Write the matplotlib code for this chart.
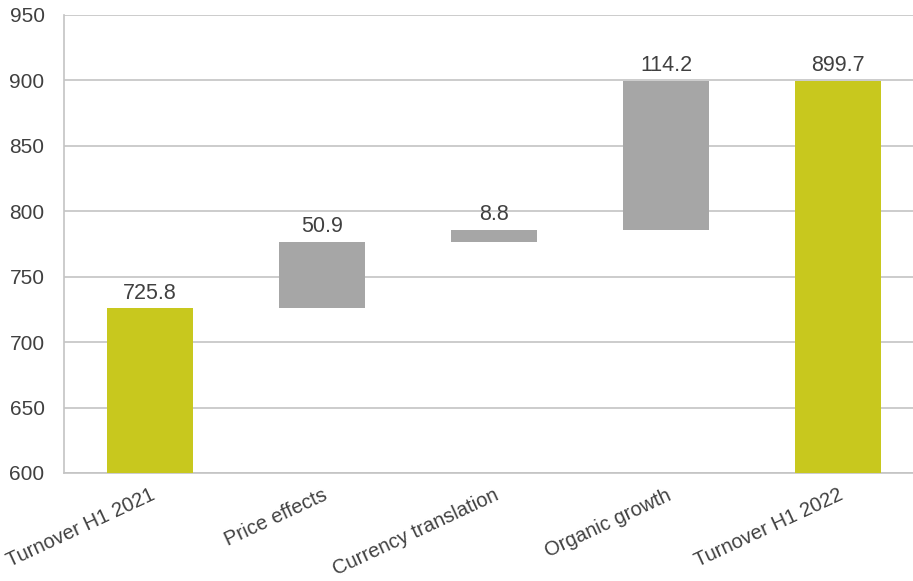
import matplotlib

matplotlib.use("Agg")

import matplotlib.pyplot as plt

plt.rcParams["font.family"] = ["Liberation Sans", "DejaVu Sans"]

categories = ["Turnover H1 2021", "Price effects", "Currency translation", "Organic growth", "Turnover H1 2022"]
values = [725.8, 50.9, 8.8, 114.2, 899.7]
is_total = [True, False, False, False, True]
y_ticks = [600, 650, 700, 750, 800, 850, 900, 950]

TOTAL_COLOR = "#c8c81e"
STEP_COLOR = "#a6a6a6"
GRID_COLOR = "#c4c4c4"
TEXT_COLOR = "#404040"

# waterfall bottoms/heights
bottoms, heights, tops = [], [], []
running = 0.0
for value, total in zip(values, is_total):
    if total:
        bottoms.append(y_ticks[0])
        heights.append(value - y_ticks[0])
        running = value
    else:
        bottoms.append(running)
        heights.append(value)
        running += value
    tops.append(bottoms[-1] + heights[-1])

figure = plt.figure(figsize=(9.13, 5.81), dpi=100)
axis = figure.add_axes([64 / 913, 108 / 581, 860 / 913, 458 / 581])

x = range(len(categories))
colors = [TOTAL_COLOR if total else STEP_COLOR for total in is_total]
axis.bar(x, heights, bottom=bottoms, width=0.5, color=colors, zorder=3)

for xi, top, value in zip(x, tops, values):
    axis.annotate(
        f"{value:.1f}",
        (xi, top),
        xytext=(0, 3.5),
        textcoords="offset points",
        ha="center",
        va="bottom",
        fontsize=15.5,
        color=TEXT_COLOR,
    )

axis.set_xlim(-0.5, len(categories) - 0.5)
axis.set_ylim(y_ticks[0], y_ticks[-1])
axis.set_yticks(y_ticks)
axis.set_xticks(list(x))
axis.set_xticklabels(categories, rotation=25, ha="right", rotation_mode="anchor")
axis.tick_params(axis="both", length=0, colors=TEXT_COLOR)
axis.tick_params(axis="x", pad=9, labelsize=14.5)
axis.tick_params(axis="y", pad=14, labelsize=15)
axis.grid(True, axis="y", color=GRID_COLOR, linewidth=1.2, zorder=0)
for side in ("top", "right"):
    axis.spines[side].set_visible(False)
for side in ("left", "bottom"):
    axis.spines[side].set_color(GRID_COLOR)
    axis.spines[side].set_linewidth(1.2)

figure.savefig("out.png", dpi=100)
plt.close(figure)
